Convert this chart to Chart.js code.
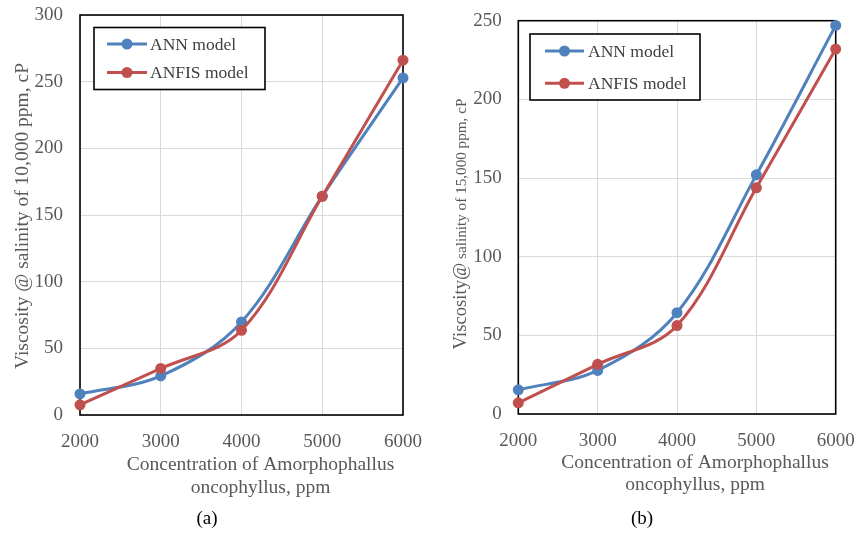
<!DOCTYPE html>
<html><head><meta charset="utf-8">
<script src="https://cdn.jsdelivr.net/npm/chart.js@4/dist/chart.umd.min.js"></script>
<style>
html,body{margin:0;padding:0;background:#fff;}
#wrap{position:relative;width:856px;height:533px;overflow:hidden;background:#fff;}
canvas{position:absolute;top:0;}
</style></head><body>
<div id="wrap"><canvas id="ca" width="428" height="533" style="left:0"></canvas><canvas id="cb" width="428" height="533" style="left:428px"></canvas></div>
<script>
// ---- data ----
const categories = ['2000', '3000', '4000', '5000', '6000'];
const seriesNames = ['ANN model', 'ANFIS model'];
const annA   = [15.8, 29.3, 69.8, 164.1, 252.8];
const anfisA = [7.6, 34.9, 63.5, 164.0, 266.1];
const annB   = [15.4, 27.7, 64.4, 152.0, 247.0];
const anfisB = [7.1, 31.6, 56.2, 143.8, 232.0];
const yRangeA = [0, 300];
const yRangeB = [0, 250];
const yStep = 50;
const yTitleA = ['Viscosity @ salinity of 10,000 ppm, cP'];
const yTitleB = ['Viscosity@', ' salinity of 15,000 ppm, cP'];
const xTitleLines = ['Concentration of Amorphophallus', 'oncophyllus, ppm'];
const captions = ['(a)', '(b)'];

const SERIF = "'Liberation Serif', 'Times New Roman', serif";
const GRAY = '#595959';
const BLUE = '#4F81BD';
const RED = '#C0504D';

function overlayPlugin(cfg) {
  return {
    id: 'overlay' + cfg.id,
    beforeDatasetsDraw(chart) {
      const ctx = chart.ctx, a = chart.chartArea;
      ctx.save();
      ctx.strokeStyle = '#000';
      ctx.lineWidth = 1.6;
      ctx.strokeRect(a.left, a.top, a.right - a.left, a.bottom - a.top);
      ctx.restore();
    },
    afterDraw(chart) {
      const ctx = chart.ctx;
      ctx.save();
      // y title (rotated, possibly mixed sizes)
      ctx.fillStyle = GRAY;
      ctx.textBaseline = 'alphabetic';
      ctx.textAlign = 'left';
      let total = 0;
      const widths = cfg.yTitle.map((t, i) => { ctx.font = cfg.yTitleSizes[i] + 'px ' + SERIF; const w = ctx.measureText(t).width; total += w; return w; });
      ctx.translate(cfg.yTitleBase, cfg.yTitleCy);
      ctx.rotate(-Math.PI / 2);
      let xx = -total / 2;
      cfg.yTitle.forEach((t, i) => { ctx.font = cfg.yTitleSizes[i] + 'px ' + SERIF; ctx.fillText(t, xx, 0); xx += widths[i]; });
      ctx.setTransform(1, 0, 0, 1, 0, 0);
      // x title
      ctx.font = cfg.xTitleSize + 'px ' + SERIF;
      ctx.textAlign = 'center';
      ctx.textBaseline = 'middle';
      ctx.fillText(xTitleLines[0], cfg.xTitleCx, cfg.xTitleY[0]);
      ctx.fillText(xTitleLines[1], cfg.xTitleCx, cfg.xTitleY[1]);
      // caption
      ctx.fillStyle = '#000';
      ctx.font = '19px ' + SERIF;
      ctx.fillText(cfg.caption, cfg.capX, cfg.capY);
      // legend
      const L = cfg.legend;
      ctx.fillStyle = '#fff';
      ctx.fillRect(L.x, L.y, L.w, L.h);
      ctx.strokeStyle = '#000';
      ctx.lineWidth = 1.6;
      ctx.strokeRect(L.x, L.y, L.w, L.h);
      chart.data.datasets.forEach((ds, i) => {
        const y = L.rows[i];
        ctx.strokeStyle = ds.borderColor;
        ctx.lineWidth = 3;
        ctx.beginPath(); ctx.moveTo(L.lx1, y); ctx.lineTo(L.lx2, y); ctx.stroke();
        ctx.fillStyle = ds.borderColor;
        ctx.beginPath(); ctx.arc((L.lx1 + L.lx2) / 2, y, 5.5, 0, Math.PI * 2); ctx.fill();
        ctx.fillStyle = '#404040';
        ctx.font = '17.5px ' + SERIF;
        ctx.textAlign = 'left';
        ctx.textBaseline = 'middle';
        ctx.fillText(ds.label, L.tx, y + 1);
      });
      ctx.restore();
    }
  };
}

function makeChart(id, cfg, ann, anfis, yRange) {
  const tickFont = { family: SERIF, size: 19 };
  return new Chart(document.getElementById(id), {
    type: 'line',
    data: {
      labels: categories,
      datasets: [
        { label: seriesNames[0], data: ann, borderColor: BLUE, backgroundColor: BLUE, pointBackgroundColor: BLUE,
          borderWidth: 3, pointRadius: 5.5, pointBorderWidth: 0, tension: 0.35, clip: false, order: 1 },
        { label: seriesNames[1], data: anfis, borderColor: RED, backgroundColor: RED, pointBackgroundColor: RED,
          borderWidth: 3, pointRadius: 5.5, pointBorderWidth: 0, tension: 0.35, clip: false, order: 0 }
      ]
    },
    options: {
      responsive: false, animation: false, devicePixelRatio: 1,
      layout: { padding: { left: 0, right: cfg.padR, top: cfg.padT, bottom: 0 } },
      plugins: { legend: { display: false }, tooltip: { enabled: false } },
      scales: {
        x: {
          type: 'category', offset: false,
          grid: { color: '#d9d9d9', lineWidth: 1, drawTicks: false },
          border: { display: false },
          ticks: { padding: cfg.xPad, font: tickFont, color: GRAY, maxRotation: 0, autoSkip: false },
          afterFit(s) { s.height = cfg.xH; s.paddingLeft = 0; s.paddingRight = 0; }
        },
        y: {
          min: yRange[0], max: yRange[1],
          grid: { color: '#d9d9d9', lineWidth: 1, drawTicks: false },
          border: { display: false },
          ticks: { stepSize: yStep, padding: cfg.yPad, font: tickFont, color: GRAY },
          afterFit(s) { s.width = cfg.yW; s.paddingTop = 0; s.paddingBottom = 0; }
        }
      }
    },
    plugins: [overlayPlugin(cfg)]
  });
}

const cfgA = {
  id: 'A', yW: 80, padR: 25, padT: 15, xH: 118, yPad: 17, xPad: 15.5,
  yTitle: yTitleA, yTitleSizes: [19.5], yTitleBase: 27.5, yTitleCy: 216,
  xTitleSize: 19.5, xTitleCx: 260.5, xTitleY: [465, 487.5],
  caption: captions[0], capX: 207, capY: 519,
  legend: { x: 94, y: 27.5, w: 171, h: 62, rows: [44, 72.5], lx1: 107, lx2: 147, tx: 150 }
};
const cfgB = {
  id: 'B', yW: 90.3, padR: 20.3, padT: 20.7, xH: 119, yPad: 16.6, xPad: 15.5,
  yTitle: yTitleB, yTitleSizes: [18.7, 15.2], yTitleBase: 37.5, yTitleCy: 224,
  xTitleSize: 19.5, xTitleCx: 267, xTitleY: [463, 485],
  caption: captions[1], capX: 214, capY: 519,
  legend: { x: 102, y: 34, w: 170, h: 66, rows: [51, 83.3], lx1: 117, lx2: 156, tx: 160 }
};

makeChart('ca', cfgA, annA, anfisA, yRangeA);
makeChart('cb', cfgB, annB, anfisB, yRangeB);
</script>
</body></html>
